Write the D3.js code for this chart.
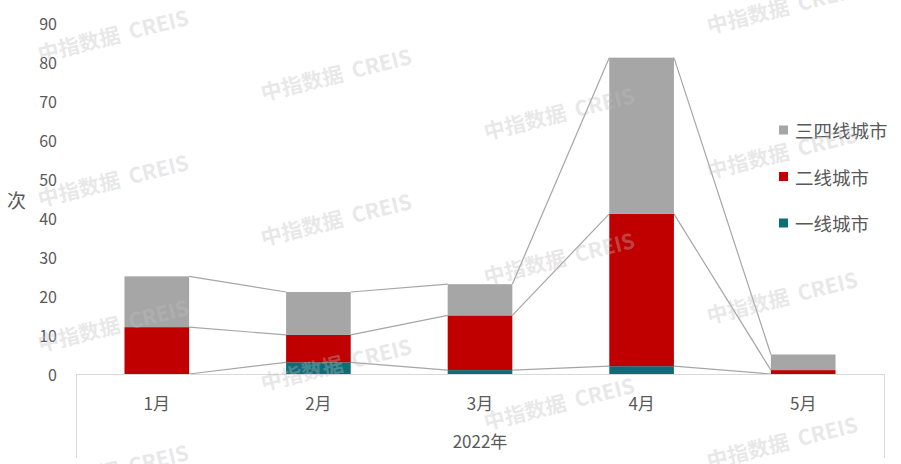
<!DOCTYPE html>
<html><head><meta charset="utf-8">
<script src="https://cdn.jsdelivr.net/npm/d3@7/dist/d3.min.js"></script>
<style>body{margin:0;background:#fff}svg{display:block}</style>
</head><body><svg id="c" width="901" height="464"></svg>
<script>
const categories = ["1月","2月","3月","4月","5月"];
const groupLabel = "2022年";
const seriesNames = ["一线城市","二线城市","三四线城市"];
const tier1 = [0, 3, 1, 2, 0];
const tier2 = [12, 7, 14, 39, 1];
const tier34 = [13, 11, 8, 40, 4];
const yTicks = [0,10,20,30,40,50,60,70,80,90];
const yLabel = "次";
const watermark = "中指数据  CREIS";

const colors = ["#0b6e77","#c00000","#a6a6a6"];
const font = "'Noto Sans CJK SC','Noto Sans',sans-serif";
const svg = d3.select("#c");
const x = d3.scaleBand().domain(categories).range([76, 884]).paddingInner(0).paddingOuter(0);
const y = d3.scaleLinear().domain([0, 90]).range([374, 22.5]);
const bw = x.bandwidth() * 0.4;

const rows = categories.map((c, i) => ({cat: c, t1: tier1[i], t2: tier2[i], t34: tier34[i]}));
const stack = d3.stack().keys(["t1","t2","t34"])(rows);

// y tick labels
svg.append("g").selectAll("text").data(yTicks).join("text")
  .attr("x", 57).attr("y", d => y(d)).attr("text-anchor","end").attr("dominant-baseline","central")
  .attr("font-family", font).attr("font-size", 16).attr("fill","#595959").text(d => d);
svg.append("text").attr("x", 16.5).attr("y", 199).attr("text-anchor","middle").attr("dominant-baseline","central")
  .attr("font-family", font).attr("font-size", 19).attr("fill","#595959").text(yLabel);

// series lines
const lineG = svg.append("g");
stack.forEach(s => {
  for (let i = 0; i < s.length - 1; i++) {
    const a = s[i], b = s[i+1];
    lineG.append("line")
      .attr("x1", x(categories[i]) + x.bandwidth()/2 + bw/2).attr("y1", y(a[1]))
      .attr("x2", x(categories[i+1]) + x.bandwidth()/2 - bw/2).attr("y2", y(b[1]))
      .attr("stroke","#a6a6a6").attr("stroke-width",1.2);
  }
});

// bars
stack.forEach((s, k) => {
  svg.append("g").selectAll("rect").data(s).join("rect")
    .attr("x", (d, i) => x(categories[i]) + x.bandwidth()/2 - bw/2)
    .attr("width", bw)
    .attr("y", d => y(d[1]))
    .attr("height", d => y(d[0]) - y(d[1]))
    .attr("fill", colors[k]);
});

// x axis
const ax = svg.append("g").attr("stroke","#d9d9d9").attr("stroke-width",1);
ax.append("line").attr("x1",76).attr("x2",884).attr("y1",374.5).attr("y2",374.5);
ax.append("line").attr("x1",76.5).attr("x2",76.5).attr("y1",374).attr("y2",458);
ax.append("line").attr("x1",884.5).attr("x2",884.5).attr("y1",374).attr("y2",458);
svg.append("g").selectAll("text").data(categories).join("text")
  .attr("x", d => x(d) + x.bandwidth()/2).attr("y", 402).attr("text-anchor","middle").attr("dominant-baseline","central")
  .attr("font-family", font).attr("font-size", 17).attr("fill","#595959").text(d => d);
svg.append("text").attr("x", 480).attr("y", 440).attr("text-anchor","middle").attr("dominant-baseline","central")
  .attr("font-family", font).attr("font-size", 17).attr("fill","#595959").text(groupLabel);

// legend
const legendOrder = [2,1,0];
const lg = svg.append("g");
legendOrder.forEach((k, j) => {
  const cy = 130 + j * 46.5;
  lg.append("rect").attr("x", 779).attr("y", cy - 4.5).attr("width", 9).attr("height", 9).attr("fill", colors[k]);
  lg.append("text").attr("x", 795).attr("y", cy).attr("dominant-baseline","central")
    .attr("font-family", font).attr("font-size", 18.5).attr("fill","#595959").text(seriesNames[k]);
});

// watermark
const wm = svg.append("g").attr("pointer-events","none");
for (let c = 0; c < 4; c++) {
  for (let r = -1; r < 5; r++) {
    const bx = 40 + 223 * c;
    let by = 62 + 39 * c + 145 * r;
    if (by < 20 || by > 520) continue;
    wm.append("text").attr("x", bx).attr("y", by)
      .attr("transform", `rotate(-14 ${bx} ${by})`)
      .attr("font-family", font).attr("font-size", 21).attr("font-weight", "bold")
      .attr("fill", "rgb(190,190,190)").attr("fill-opacity", 0.36)
      .attr("xml:space","preserve").style("white-space","pre").text(watermark);
  }
}
</script></body></html>
